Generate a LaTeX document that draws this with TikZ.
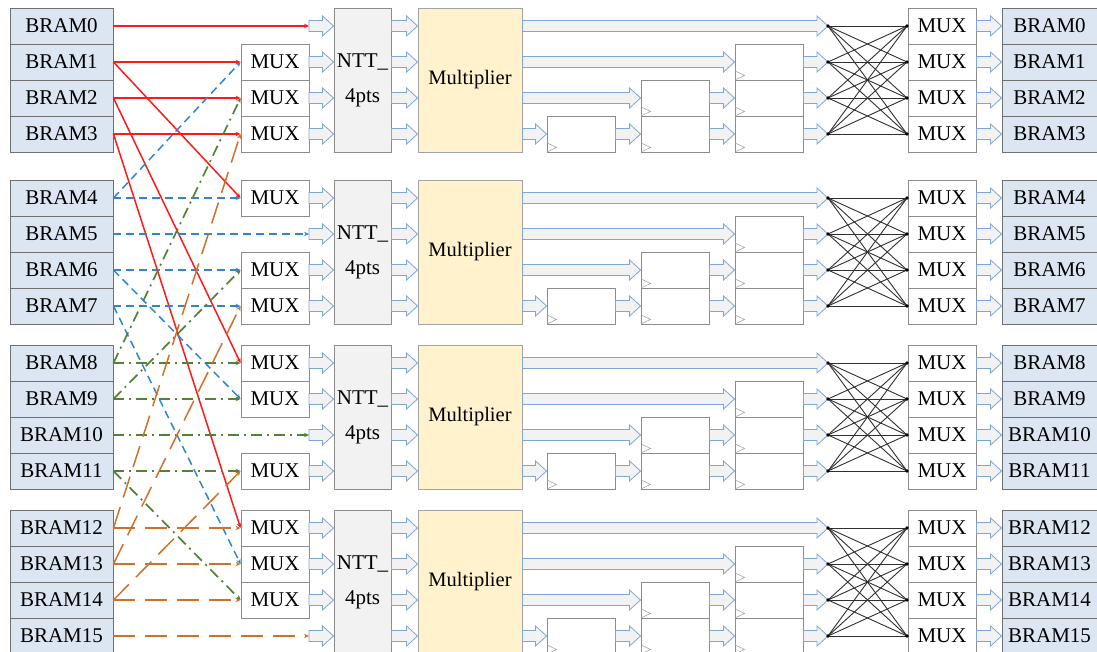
\documentclass[tikz,border=0pt]{standalone}
\usepackage{fontspec}
\setmainfont{Liberation Serif}
\usetikzlibrary{arrows.meta,calc}
\definecolor{bramblue}{HTML}{DCE6F2}
\definecolor{bramedge}{HTML}{707070}
\definecolor{boxgray}{HTML}{8C8C8C}
\definecolor{nttgray}{HTML}{F2F2F2}
\definecolor{multyellow}{HTML}{FFF2CC}
\definecolor{arrowblue}{HTML}{7EA6D6}
\definecolor{arrowfill}{HTML}{F2F2F2}
\definecolor{lred}{HTML}{FF1A1A}
\definecolor{lblue}{HTML}{2E86D1}
\definecolor{lgreen}{HTML}{548235}
\definecolor{lorange}{HTML}{D0702A}
\definecolor{xbar}{HTML}{303030}
\newcommand\fatarrow[2]{\path[fat] let \p1=#1, \p2=#2 in
  (\x1,\y1+5.5pt) -- (\x2-11pt,\y1+5.5pt) -- (\x2-11pt,\y1+10pt) -- (\x2,\y1)
  -- (\x2-11pt,\y1-10pt) -- (\x2-11pt,\y1-5.5pt) -- (\x1,\y1-5.5pt) -- cycle;}
\begin{document}
\begin{tikzpicture}[x=1pt,y=-1pt,
  box/.style={draw=boxgray, line width=0.9pt, minimum height=36pt, inner sep=0pt, font=\fontsize{21}{24}\selectfont},
  bram/.style={box, fill=bramblue, draw=bramedge, minimum width=103pt},
  rbram/.style={bram, minimum width=95pt},
  mux/.style={box, fill=white, minimum width=68pt},
  reg/.style={box, fill=white, minimum width=68pt},
  ntt/.style={box, fill=nttgray, minimum width=57pt, minimum height=144pt, align=center, font=\fontsize{21}{35}\selectfont},
  mult/.style={box, fill=multyellow, draw=boxgray!80, minimum width=104pt, minimum height=144pt, font=\fontsize{20.5}{24}\selectfont},
  fat/.style={draw=arrowblue, fill=arrowfill, line width=0.8pt, line join=miter},
  tip/.style={-{Stealth[length=5pt,width=4.5pt]}},
  redl/.style={draw=lred, line width=1.5pt, tip},
  bluel/.style={draw=lblue, line width=1.5pt, dash pattern=on 8pt off 5pt, tip},
  greenl/.style={draw=lgreen, line width=1.7pt, dash pattern=on 11pt off 5pt on 2pt off 5pt, tip},
  orangel/.style={draw=lorange, line width=1.5pt, dash pattern=on 22pt off 10pt, tip},
  clk/.style={draw=black!35, line width=0.6pt},
  xline/.style={draw=xbar, line width=0.9pt},
]
\useasboundingbox (0,0) rectangle (1097,652);
\clip (0,0) rectangle (1097,652);
\def\H{36}
\foreach \g/\T in {0/8,1/180,2/345,3/510} {
  \foreach \j in {0,...,3} {
    \pgfmathsetmacro\yc{\T+\H*(\j+0.5)}
    \pgfmathtruncatemacro\k{4*\g+\j}
    \node[bram] (b\k) at (61.5,\yc) {BRAM\k};
    \node[rbram] (rb\k) at (1049.5,\yc) {BRAM\k};
    \node[mux] (rm\k) at (942,\yc) {MUX};
    \coordinate (in\k) at (309,\yc);
    \coordinate (xl\k) at (828,\yc);
    \coordinate (xr\k) at (907,\yc);
    \ifnum\j=\g\relax\else
      \node[mux] (m\k) at (275,\yc) {MUX};
    \fi
  }
  \pgfmathsetmacro\ym{\T+2*\H}
  \node[ntt] (ntt\g) at (362.5,\ym) {NTT\_\\4pts};
  \node[mult] (mul\g) at (470,\ym) {Multiplier};
  \pgfmathsetmacro\yA{\T+\H*3.5}
  \pgfmathsetmacro\yB{\T+\H*2.5}
  \pgfmathsetmacro\yC{\T+\H*1.5}
  \node[reg] (rA-\g) at (581,\yA) {};
  \node[reg] (rB-\g-2) at (675,\yB) {};
  \node[reg] (rB-\g-3) at (675,\yA) {};
  \node[reg] (rC-\g-1) at (769,\yC) {};
  \node[reg] (rC-\g-2) at (769,\yB) {};
  \node[reg] (rC-\g-3) at (769,\yA) {};
  \foreach \r in {rA-\g,rB-\g-2,rB-\g-3,rC-\g-1,rC-\g-2,rC-\g-3} {
    \draw[clk] ($(\r.south west)+(0.5,-9.5)$) -- ($(\r.south west)+(10,-5)$) -- ($(\r.south west)+(0.5,-0.5)$);
  }
  % block arrows
  \foreach \j in {0,...,3} {
    \pgfmathtruncatemacro\k{4*\g+\j}
    \fatarrow{(in\k)}{(ntt\g.west |- in\k)}
    \fatarrow{(ntt\g.east |- in\k)}{(mul\g.west |- in\k)}
    \fatarrow{(rm\k.east)}{(rb\k.west)}
  }
  \pgfmathtruncatemacro\ka{4*\g}
  \pgfmathtruncatemacro\kb{4*\g+1}
  \pgfmathtruncatemacro\kc{4*\g+2}
  \pgfmathtruncatemacro\kd{4*\g+3}
  \fatarrow{(mul\g.east |- in\ka)}{(xl\ka)}
  \fatarrow{(mul\g.east |- in\kb)}{(rC-\g-1.west)}
  \fatarrow{(mul\g.east |- in\kc)}{(rB-\g-2.west)}
  \fatarrow{(mul\g.east |- in\kd)}{(rA-\g.west)}
  \fatarrow{(rA-\g.east)}{(rB-\g-3.west)}
  \fatarrow{(rB-\g-2.east)}{(rC-\g-2.west)}
  \fatarrow{(rB-\g-3.east)}{(rC-\g-3.west)}
  \fatarrow{(rC-\g-1.east)}{(xl\kb)}
  \fatarrow{(rC-\g-2.east)}{(xl\kc)}
  \fatarrow{(rC-\g-3.east)}{(xl\kd)}
  % crossbar
  \foreach \a in {0,...,3} {
    \foreach \b in {0,...,3} {
      \pgfmathtruncatemacro\p{4*\g+\a}
      \pgfmathtruncatemacro\q{4*\g+\b}
      \draw[xline] (xl\p) -- (xr\q);
    }
  }
  \foreach \a in {0,...,3} {
    \pgfmathtruncatemacro\p{4*\g+\a}
    \fill[xbar] (xl\p) circle (1.8);
    \fill[xbar] (xr\p) circle (1.8);
  }
}
% group 0 (red)
\draw[redl] (b0.east) -- (in0);
\draw[redl] (b1.east) -- (m1.west);
\draw[redl] (b1.east) -- (m4.west);
\draw[redl] (b2.east) -- (m2.west);
\draw[redl] (b2.east) -- (m8.west);
\draw[redl] (b3.east) -- (m3.west);
\draw[redl] (b3.east) -- (m12.west);
% group 1 (blue)
\draw[bluel] (b4.east) -- (m4.west);
\draw[bluel] (b4.east) -- (m1.west);
\draw[bluel] (b5.east) -- (in5);
\draw[bluel] (b6.east) -- (m6.west);
\draw[bluel] (b6.east) -- (m9.west);
\draw[bluel] (b7.east) -- (m7.west);
\draw[bluel] (b7.east) -- (m13.west);
% group 2 (green)
\draw[greenl] (b8.east) -- (m8.west);
\draw[greenl] (b8.east) -- (m2.west);
\draw[greenl] (b9.east) -- (m9.west);
\draw[greenl] (b9.east) -- (m6.west);
\draw[greenl] (b10.east) -- (in10);
\draw[greenl] (b11.east) -- (m11.west);
\draw[greenl] (b11.east) -- (m14.west);
% group 3 (orange)
\draw[orangel] (b12.east) -- (m12.west);
\draw[orangel] (b12.east) -- (m3.west);
\draw[orangel] (b13.east) -- (m13.west);
\draw[orangel] (b13.east) -- (m7.west);
\draw[orangel] (b14.east) -- (m14.west);
\draw[orangel] (b14.east) -- (m11.west);
\draw[orangel] (b15.east) -- (in15);
\end{tikzpicture}
\end{document}
